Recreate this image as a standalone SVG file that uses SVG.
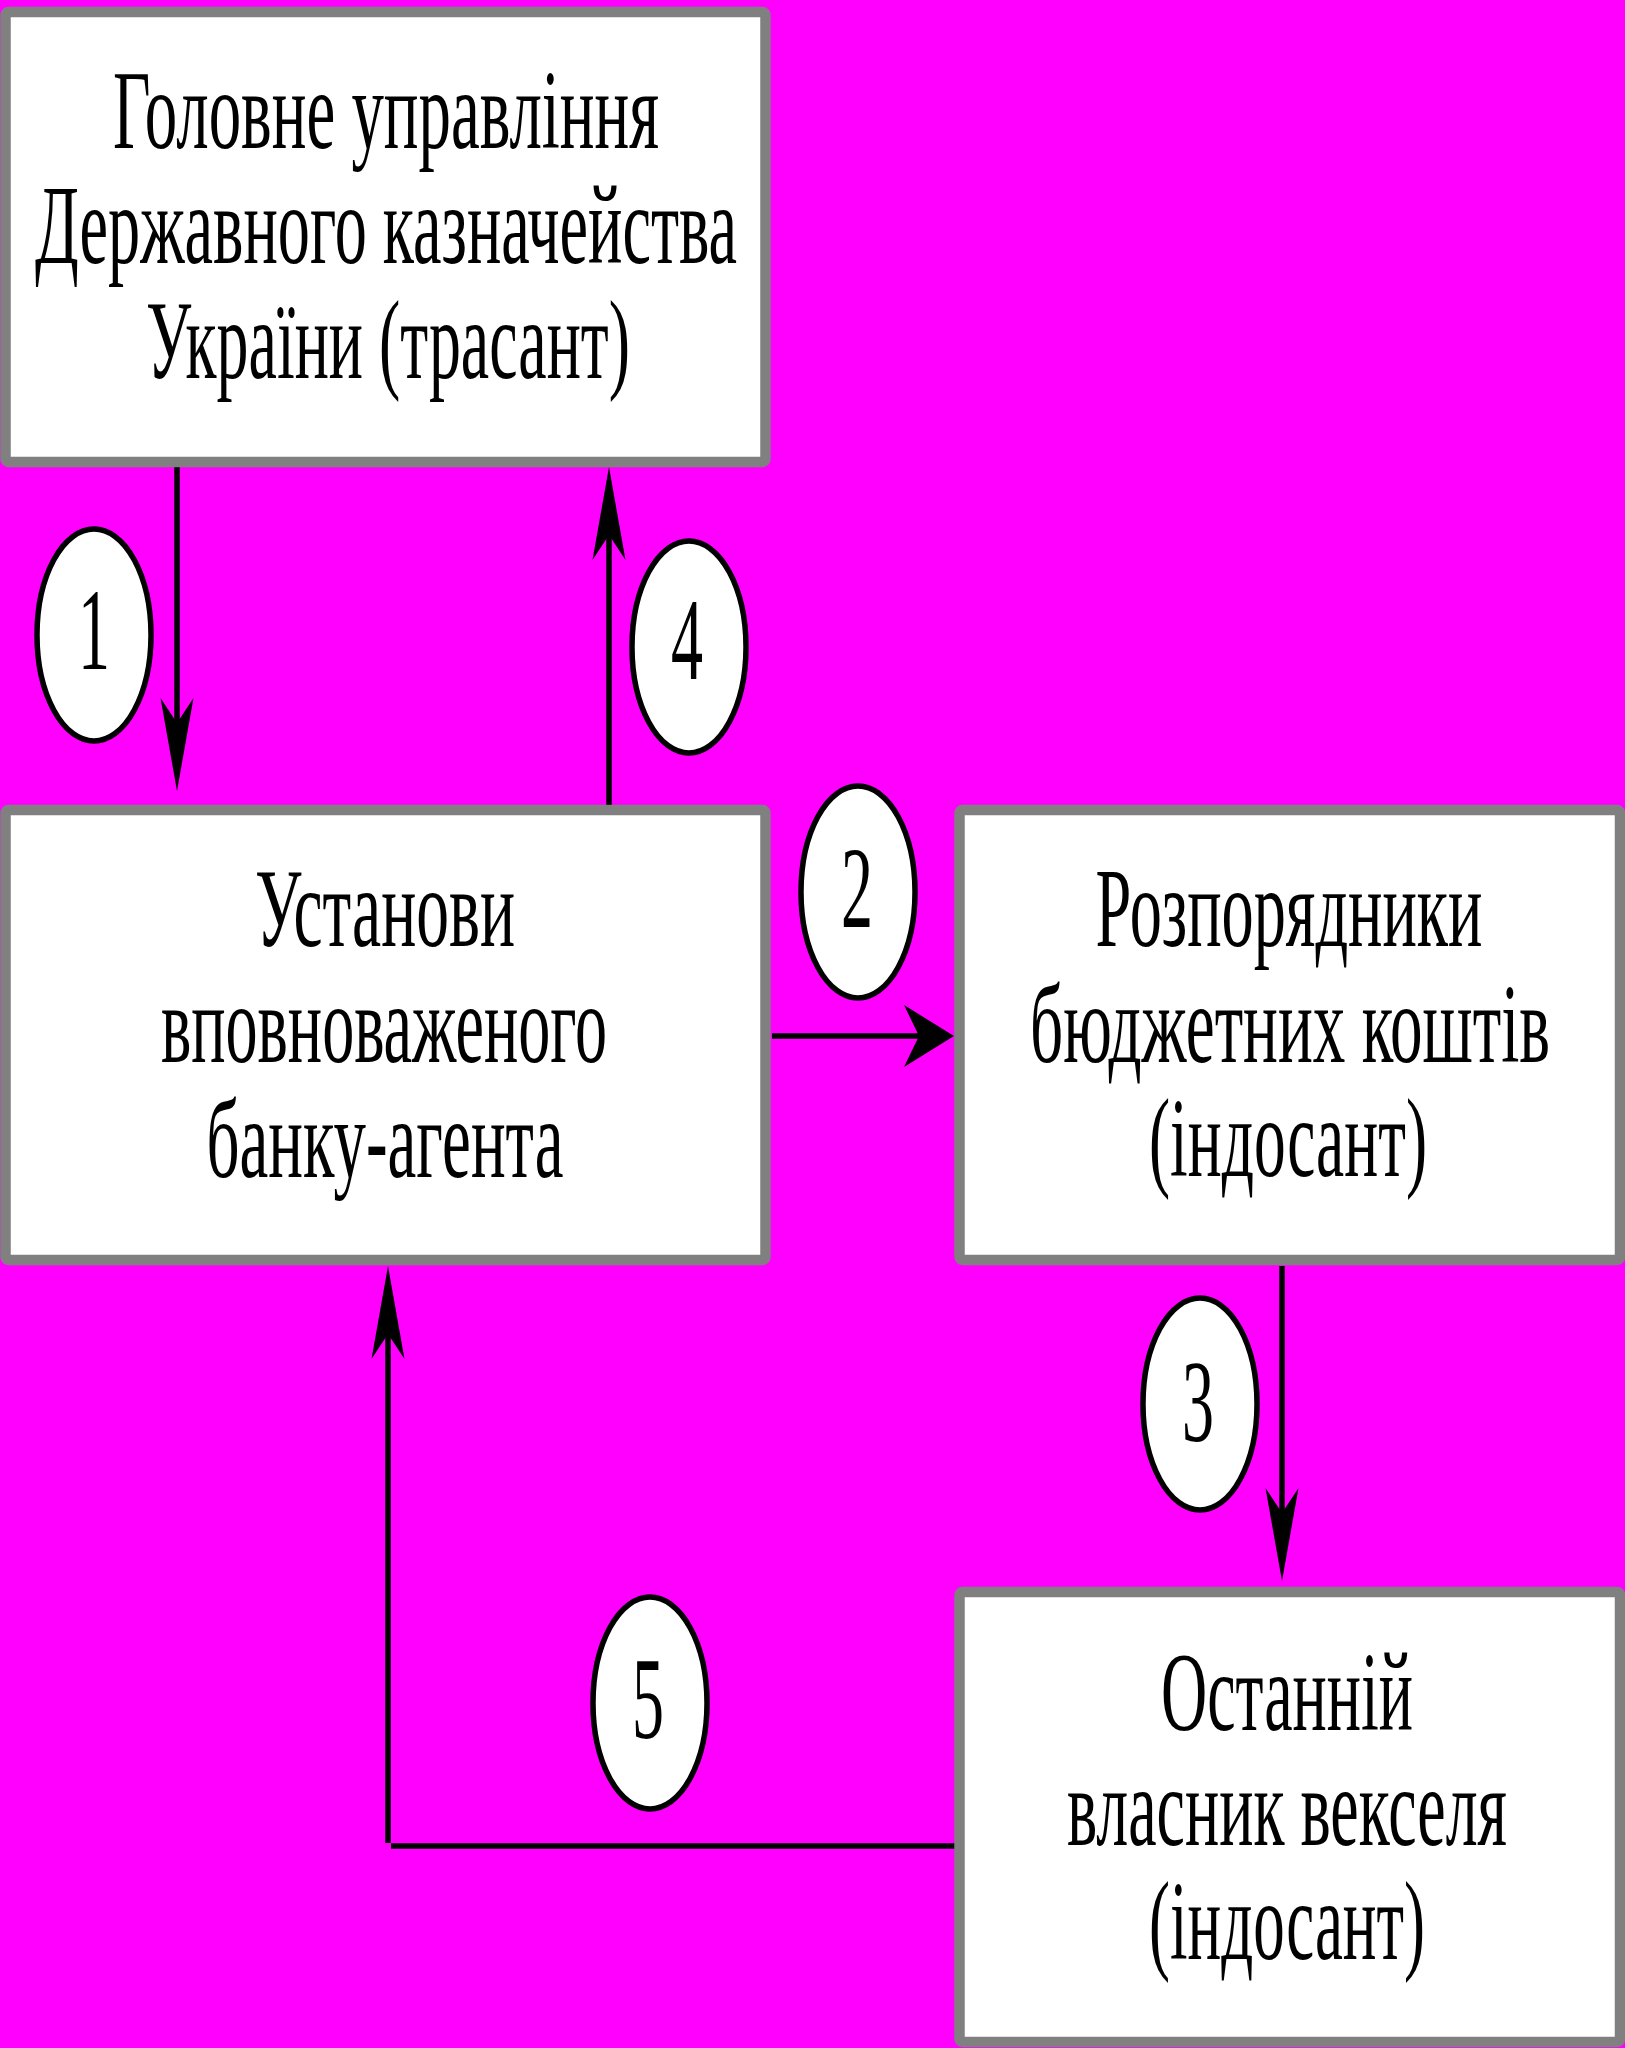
<svg xmlns="http://www.w3.org/2000/svg" width="1625" height="2048" viewBox="0 0 1625 2048">
<style>
.box{fill:#fff;stroke:#808080;stroke-width:10.5;stroke-linejoin:round}
.t{font-family:"Liberation Serif","Times New Roman",serif;font-size:112px;fill:#000;text-anchor:middle}
.num{font-family:"Liberation Serif","Times New Roman",serif;font-size:116px;fill:#000;text-anchor:middle}
.oval{fill:#fff;stroke:#000;stroke-width:5.5}
.ln{fill:none;stroke:#000;stroke-width:5.5}
</style>
<defs>
<marker id="arrV" markerUnits="userSpaceOnUse" orient="auto" refX="0" refY="0" markerWidth="120" markerHeight="40" overflow="visible">
<path d="M0,0 L-25,-16.5 L68,0 L-25,16.5 Z" fill="#000"/>
</marker>
<marker id="arrH" markerUnits="userSpaceOnUse" orient="auto" refX="0" refY="0" markerWidth="60" markerHeight="70" overflow="visible">
<path d="M0,0 L-15,-31 L35,0 L-15,31 Z" fill="#000"/>
</marker>
</defs>
<rect x="0" y="0" width="1625" height="2048" fill="#FF00FF"/>

<g id="connectors">
<path class="ln" d="M177,467 L177,723" marker-end="url(#arrV)"/>
<path class="ln" d="M609,805 L609,535" marker-end="url(#arrV)"/>
<path class="ln" d="M772,1036 L919,1036" marker-end="url(#arrH)"/>
<path class="ln" d="M1282,1266 L1282,1513" marker-end="url(#arrV)"/>
<path class="ln" d="M955,1846 L391,1846"/>
<path class="ln" d="M388,1843 L388,1334" marker-end="url(#arrV)"/>
</g>

<g id="node-treasury">
<rect class="box" x="5.5" y="12" width="760" height="450" rx="3"/>
<g transform="scale(0.6 1)">
<text class="t" x="643.33" y="148" textLength="910" lengthAdjust="spacingAndGlyphs">Головне управління</text>
<text class="t" x="643.33" y="263" textLength="1170" lengthAdjust="spacingAndGlyphs">Державного казначейства</text>
<text class="t" x="646.67" y="378" textLength="806.67" lengthAdjust="spacingAndGlyphs">України (трасант)</text>
</g>
</g>

<g id="node-bank">
<rect class="box" x="5.5" y="810" width="760" height="450" rx="3"/>
<g transform="scale(0.6 1)">
<text class="t" x="641.67" y="946" textLength="433.33" lengthAdjust="spacingAndGlyphs">Установи</text>
<text class="t" x="640" y="1062" textLength="743.33" lengthAdjust="spacingAndGlyphs">вповноваженого</text>
<text class="t" x="641.67" y="1177" textLength="595" lengthAdjust="spacingAndGlyphs">банку-агента</text>
</g>
</g>

<g id="node-managers">
<rect class="box" x="959.5" y="810" width="660.5" height="450" rx="3"/>
<g transform="scale(0.6 1)">
<text class="t" x="2148.33" y="946" textLength="645" lengthAdjust="spacingAndGlyphs">Розпорядники</text>
<text class="t" x="2150" y="1062" textLength="866.67" lengthAdjust="spacingAndGlyphs">бюджетних коштів</text>
<text class="t" x="2146.67" y="1176" textLength="463.33" lengthAdjust="spacingAndGlyphs">(індосант)</text>
</g>
</g>

<g id="node-owner">
<rect class="box" x="959.5" y="1592" width="660.5" height="450" rx="3"/>
<g transform="scale(0.6 1)">
<text class="t" x="2145" y="1730" textLength="420" lengthAdjust="spacingAndGlyphs">Останній</text>
<text class="t" x="2145" y="1845" textLength="733.33" lengthAdjust="spacingAndGlyphs">власник векселя</text>
<text class="t" x="2145" y="1959" textLength="460" lengthAdjust="spacingAndGlyphs">(індосант)</text>
</g>
</g>

<g id="step-1">
<ellipse class="oval" cx="94" cy="635" rx="57" ry="106"/>
<text class="num" transform="scale(0.6 1)" x="156.67" y="669" textLength="53.33" lengthAdjust="spacingAndGlyphs">1</text>
</g>
<g id="step-2">
<ellipse class="oval" cx="858" cy="892" rx="57" ry="106"/>
<text class="num" transform="scale(0.6 1)" x="1428.33" y="927" textLength="53.33" lengthAdjust="spacingAndGlyphs">2</text>
</g>
<g id="step-3">
<ellipse class="oval" cx="1200" cy="1404" rx="57" ry="106"/>
<text class="num" transform="scale(0.6 1)" x="1996.67" y="1441" textLength="53.33" lengthAdjust="spacingAndGlyphs">3</text>
</g>
<g id="step-4">
<ellipse class="oval" cx="689" cy="647" rx="57" ry="106"/>
<text class="num" transform="scale(0.6 1)" x="1145" y="679" textLength="53.33" lengthAdjust="spacingAndGlyphs">4</text>
</g>
<g id="step-5">
<ellipse class="oval" cx="650" cy="1703" rx="57" ry="106"/>
<text class="num" transform="scale(0.6 1)" x="1080" y="1738" textLength="53.33" lengthAdjust="spacingAndGlyphs">5</text>
</g>
</svg>
